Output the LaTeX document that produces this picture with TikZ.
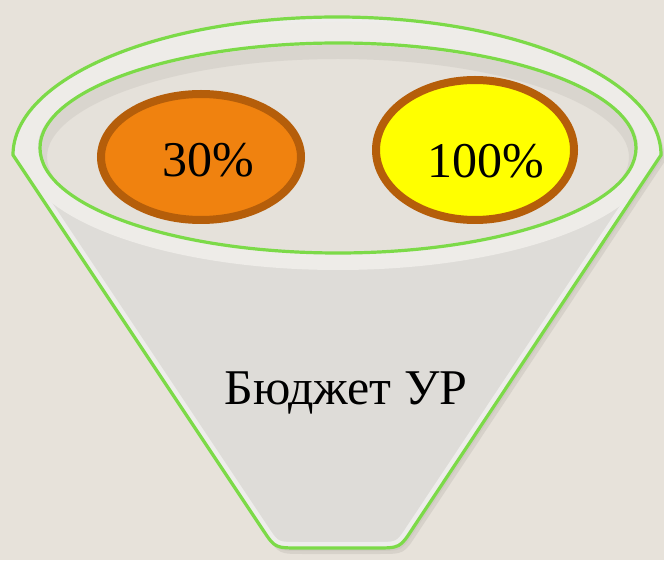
\documentclass[tikz,border=0pt]{standalone}
\usepackage{fontspec}
\setmainfont{Liberation Serif}
\usetikzlibrary{shapes.geometric}
\definecolor{bgc}{RGB}{231,226,218}
\definecolor{bodyc}{RGB}{222,220,216}
\definecolor{rimc}{RGB}{238,236,232}
\definecolor{innerc}{RGB}{229,225,218}
\definecolor{shadc}{RGB}{200,195,188}
\definecolor{limec}{RGB}{124,218,72}
\definecolor{orangec}{RGB}{240,130,15}
\definecolor{brownc}{RGB}{181,94,10}
\definecolor{yellowc}{RGB}{255,255,0}
\tikzset{
  blob/.style={ellipse, draw=brownc, line width=8pt, inner sep=0pt},
  pct/.style={anchor=base, font=\fontsize{50}{50}\selectfont, inner sep=0pt},
  rimline/.style={draw=limec, line width=3.2pt}
}
\def\funnel{(13,405) arc[start angle=180,end angle=0,x radius=324,y radius=138] -- (413,32) .. controls (400,12) .. (375,12) -- (300,12) .. controls (275,12) .. (263,30) -- cycle}
\begin{document}
\begin{tikzpicture}[x=1pt,y=1pt]
\useasboundingbox[fill=bgc] (0,0) rectangle (664,560);
% shadow
\fill[shadc, opacity=0.5, shift={(4,-6)}] \funnel;
\fill[shadc, opacity=0.5, shift={(2,-3)}] \funnel;
% body
\fill[bodyc] \funnel;
\begin{scope}
  \clip \funnel;
  \draw[white, line width=12pt, opacity=0.5] \funnel;
  \draw[rimc, line width=20pt] (338,414) ellipse[x radius=310, y radius=114];
  \fill[innerc] (338,412) ellipse[x radius=298, y radius=105];
  \begin{scope}
    \clip (338,412) ellipse[x radius=298, y radius=105];
    \draw[shadc, line width=14pt, opacity=0.4] (338,403) ellipse[x radius=298, y radius=105];
  \end{scope}
\end{scope}
\draw[rimline] \funnel;
\draw[rimline] (338,412) ellipse[x radius=298, y radius=105];
% blobs
\node[blob, fill=orangec, minimum width=200pt, minimum height=126pt] (e30) at (201,403) {};
\node[blob, fill=yellowc, minimum width=198pt, minimum height=140pt] (e100) at (475,410) {};
\node[pct] (t30) at (208,383) {30\%};
\node[pct] (t100) at (486,382) {100\%};
\node[pct] (tb) at (346,155) {Бюджет УР};
\end{tikzpicture}
\end{document}
